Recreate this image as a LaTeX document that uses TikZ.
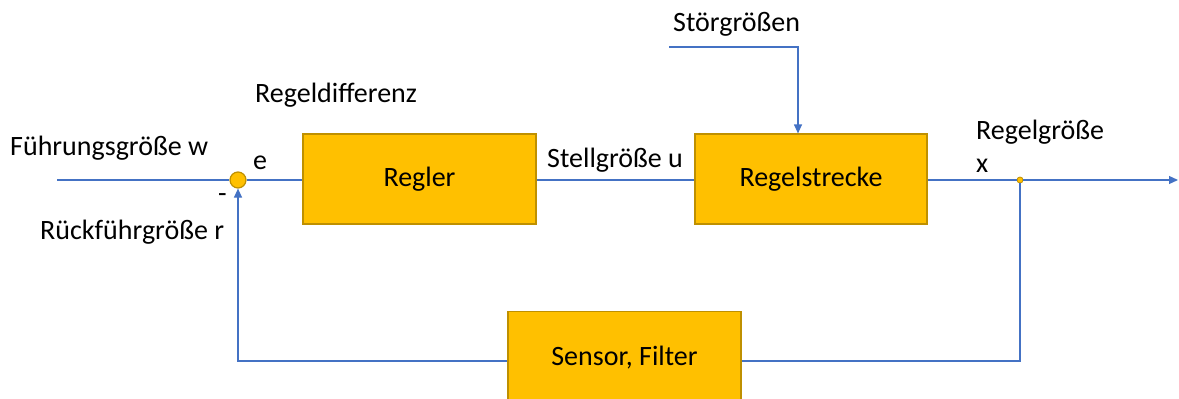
\documentclass[tikz,border=0pt]{standalone}
\usepackage{fontspec}
\setmainfont{Carlito}
\usetikzlibrary{arrows.meta}
\definecolor{boxfill}{HTML}{FFC000}
\definecolor{boxline}{HTML}{BF9000}
\definecolor{wire}{HTML}{4472C4}
\tikzset{
  blockbox/.style={draw=boxline, line width=1.2pt, fill=boxfill, inner sep=0pt, font=\fontsize{28}{32}\selectfont},
  lbl/.style={inner sep=0pt, anchor=west, font=\fontsize{28}{32}\selectfont},
  wireline/.style={draw=wire, line width=1.2pt},
  tip/.style={-{Triangle[length=9pt,width=8pt]}},
}
\begin{document}
\begin{tikzpicture}[x=1pt,y=-1pt]
\useasboundingbox (0,0) rectangle (1179,399);
% blocks
\node[blockbox, minimum width=233pt, minimum height=90pt] (regler) at (419.5,179) {Regler};
\node[blockbox, minimum width=232pt, minimum height=90pt] (strecke) at (811,179) {Regelstrecke};
\node[blockbox, minimum width=233pt, minimum height=96pt, anchor=north] (sensor) at (624.5,311) {};
\node[font=\fontsize{28}{32}\selectfont, inner sep=0pt] at (624.5,358) {Sensor, Filter};
% summing point and branch point
\node[circle, draw=boxline, fill=boxfill, line width=1.2pt, minimum size=16pt, inner sep=0pt] (sum) at (238,180) {};
\node[circle, draw=boxline, fill=boxfill, line width=0.8pt, minimum size=6pt, inner sep=0pt] (branch) at (1020,180) {};
% coordinates
\coordinate (in) at (57,180);
\coordinate (out) at (1178,180);
\coordinate (dstart) at (669,47);
\coordinate (dcorner) at (798,47);
\coordinate (fbr) at (1020,361);
\coordinate (fbl) at (238,361);
% wires
\draw[wireline] (in) -- (sum.west);
\draw[wireline] (sum.east) -- (regler.west |- sum.east);
\draw[wireline] (regler.east |- sum.east) -- (strecke.west |- sum.east);
\draw[wireline] (strecke.east |- branch.west) -- (branch.west);
\draw[wireline, tip] (branch.east) -- (out);
\draw[wireline, tip] (dstart) -- (dcorner) -- (strecke.north -| dcorner);
\draw[wireline] (branch.south) -- (fbr) -- (sensor.east |- fbr);
\draw[wireline, tip] (sensor.west |- fbl) -- (fbl) -- (sum.south);
% labels
\node[lbl] (lw) at (10,148) {Führungsgröße w};
\node[lbl] (le) at (253,163) {e};
\node[lbl] (lminus) at (218,198) {-};
\node[lbl] (lr) at (40,232) {Rückführgröße r};
\node[lbl] (ldiff) at (255,95) {Regeldifferenz};
\node[lbl] (lu) at (547,160) {Stellgröße u};
\node[lbl] (ldist) at (673,24) {Störgrößen};
\node[lbl] (lx1) at (976,132) {Regelgröße};
\node[lbl] (lx2) at (976,166) {x};
\end{tikzpicture}
\end{document}
